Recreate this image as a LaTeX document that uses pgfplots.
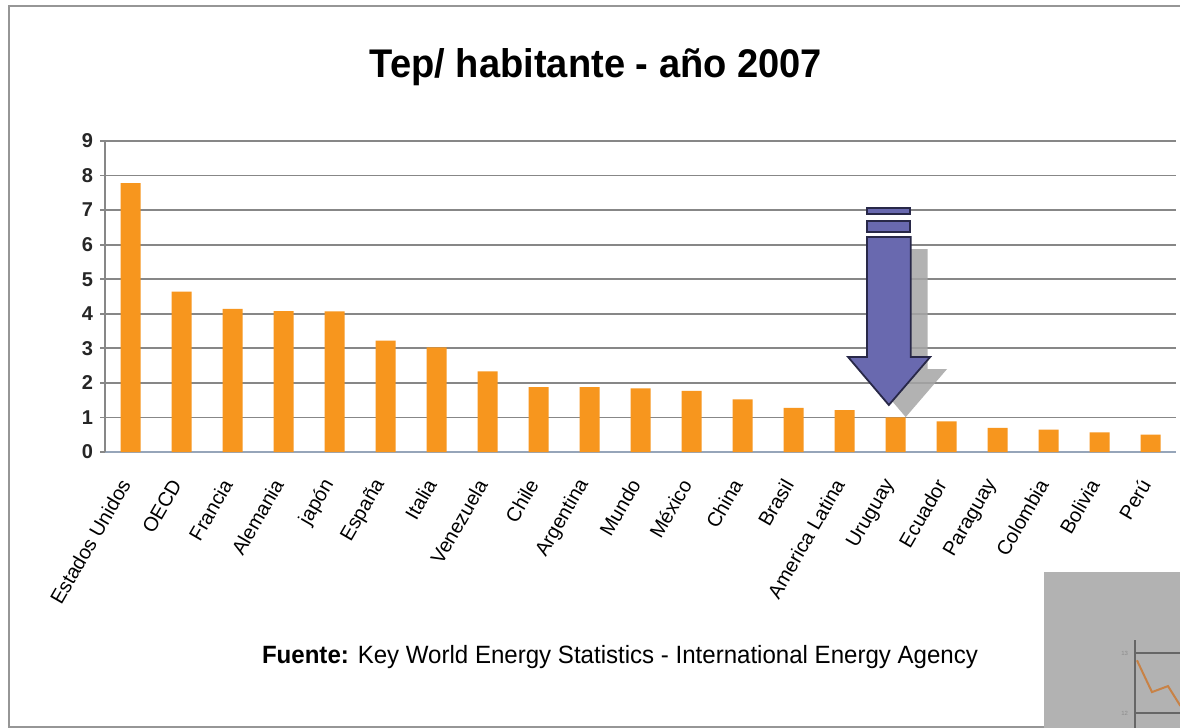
\documentclass[border=0pt]{standalone}
\usepackage{fontspec}
\setmainfont{Liberation Sans}
\usepackage{graphicx}
\usepackage{pgfplots}
\pgfplotsset{compat=1.18}
\definecolor{barorange}{RGB}{247,150,30}
\definecolor{gridgray}{RGB}{135,135,135}
\definecolor{baseaxis}{RGB}{150,165,185}
\definecolor{arrowfill}{RGB}{105,105,175}
\definecolor{arrowline}{RGB}{40,40,72}
\definecolor{shadowgray}{RGB}{165,165,165}
\definecolor{insetgray}{RGB}{178,178,178}
\definecolor{frame}{RGB}{150,150,150}
\begin{document}
\begin{tikzpicture}
\begin{scope}[x=0.5pt,y=-0.5pt]
\fill[white] (0,0) rectangle (1180,728);
\draw[frame, line width=1.2pt] (1190,6) -- (9,6) -- (9,727) -- (1190,727);
\node[font=\fontsize{20}{24}\selectfont\bfseries] at (596,67) {\resizebox{226pt}{\height}{Tep/ habitante - año 2007}};
\node[font=\fontsize{12.5}{15}\selectfont] at (620,657) {\resizebox{358pt}{\height}{\textbf{Fuente:} Key World Energy Statistics - International Energy Agency}};
\fill[insetgray] (1044,572) rectangle (1190,740);
\end{scope}

\begin{axis}[
  at={(52.5pt,-226pt)}, anchor=south west,
  scale only axis, width=535.5pt, height=155.5pt,
  xmin=-0.5, xmax=20.5, ymin=0, ymax=9,
  ybar, bar width=10pt,
  axis lines*=left,
  x axis line style={baseaxis, line width=1.2pt},
  y axis line style={gridgray, line width=0.9pt},
  xtick={0,...,20},
  xticklabels={Estados Unidos,OECD,Francia,Alemania,japón,España,Italia,Venezuela,Chile,Argentina,Mundo,México,China,Brasil,America Latina,Uruguay,Ecuador,Paraguay,Colombia,Bolivia,Perú},
  x tick label style={xshift=-2pt, yshift=-11pt, rotate=60, anchor=east, font=\fontsize{10}{12}\selectfont, inner sep=1pt},
  major x tick style={draw=none},
  ytick={0,...,9},
  /pgf/number format/assume math mode=true,
  y tick label style={font=\fontsize{10}{12}\selectfont\bfseries, text=black!85},
  tick align=outside, major tick length=2.5pt,
  y tick style={gridgray, line width=0.9pt},
  ymajorgrids, grid style={gridgray, line width=0.9pt},
  clip=false,
]
\addplot[fill=barorange, draw=none] coordinates {
(0,7.78) (1,4.64) (2,4.14) (3,4.08) (4,4.07) (5,3.22) (6,3.03) (7,2.33)
(8,1.88) (9,1.88) (10,1.84) (11,1.77) (12,1.52) (13,1.28) (14,1.21)
(15,1.00) (16,0.89) (17,0.70) (18,0.65) (19,0.57) (20,0.50)};
% arrow shadow
\fill[shadowgray, opacity=0.85] (14.77,5.87) -- (15.63,5.87) -- (15.63,2.40) -- (16.01,2.40) -- (15.20,1.01) -- (14.40,2.40) -- (14.77,2.40) -- cycle;
% arrow
\filldraw[fill=arrowfill, draw=arrowline, line width=0.9pt] (14.44,6.22) -- (15.30,6.22) -- (15.30,2.75) -- (15.68,2.75) -- (14.87,1.36) -- (14.07,2.75) -- (14.44,2.75) -- cycle;
\filldraw[fill=arrowfill, draw=arrowline, line width=0.9pt] (14.44,7.06) rectangle (15.28,6.89);
\filldraw[fill=arrowfill, draw=arrowline, line width=0.9pt] (14.44,6.68) rectangle (15.28,6.37);
\end{axis}

\begin{axis}[
  at={(567.5pt,-364pt)}, anchor=south west,
  scale only axis, width=30pt, height=44pt,
  xmin=0, xmax=10, ymin=11.75, ymax=13.22,
  axis lines*=left, x axis line style={draw=none},
  y axis line style={black!60, line width=0.8pt},
  xtick=\empty, ytick={12,13},
  /pgf/number format/assume math mode=true,
  y tick label style={font=\fontsize{3}{4}\selectfont, text=black!45},
  ymajorgrids, grid style={black!60, line width=0.8pt},
  major tick length=1.5pt, tick style={black!60},
]
\addplot[color={rgb,255:red,200;green,130;blue,70}, line width=1pt] coordinates {(0.33,12.88) (2.83,12.35) (5.5,12.45) (7.5,12.13) (10,11.9)};
\end{axis}
\pgfresetboundingbox
\path[use as bounding box] (0pt,0pt) rectangle (590pt,-364pt);
\end{tikzpicture}
\end{document}
